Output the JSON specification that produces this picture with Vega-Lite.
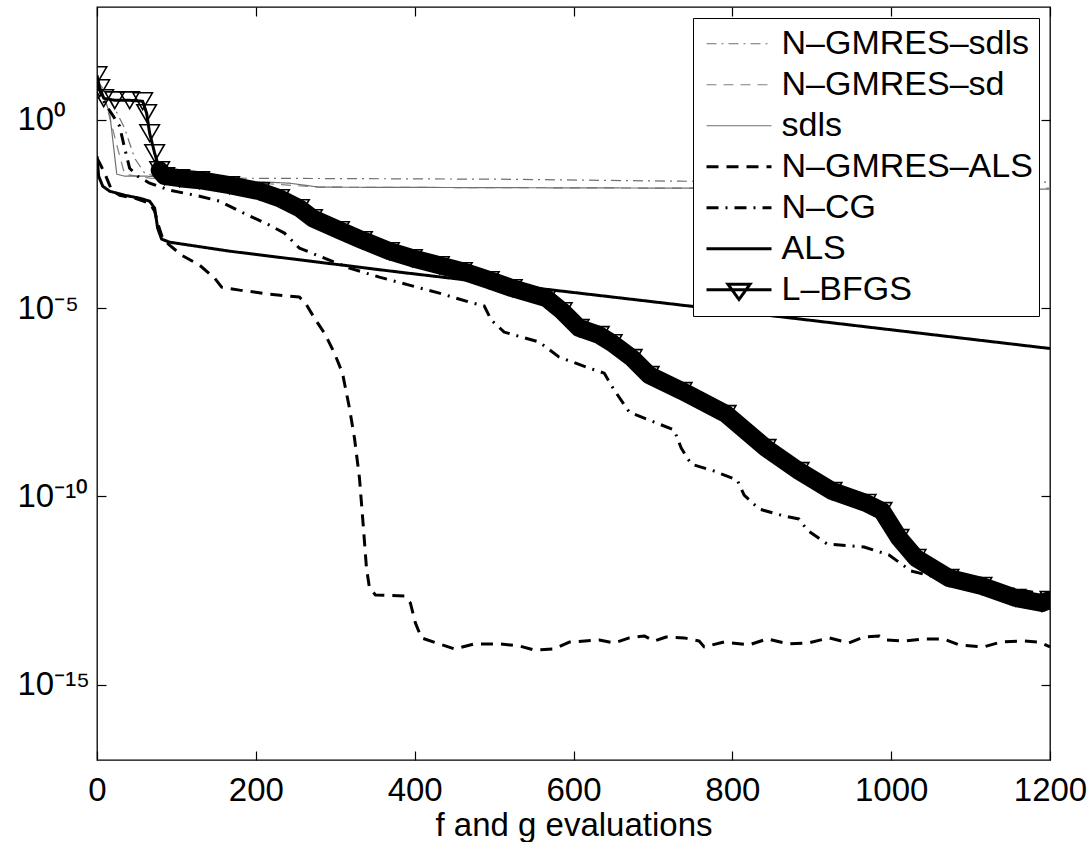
{
  "$schema": "https://vega.github.io/schema/vega-lite/v6.json",
  "width": 953,
  "height": 753,
  "autosize": {"type": "none"},
  "padding": {"left": 97, "top": 7, "right": 41, "bottom": 82},
  "background": "white",
  "config": {"view": {"stroke": "black", "strokeWidth": 1.3}, "font": "Liberation Sans"},
  "resolve": {"axis": {"x": "independent", "y": "independent"}},
  "data": {"values": [
    {"method":"N–GMRES–sdls","x":0,"y":11.3},{"method":"N–GMRES–sdls","x":16.0,"y":3.77},{"method":"N–GMRES–sdls","x":34.8,"y":0.603},{"method":"N–GMRES–sdls","x":47.4,"y":0.0964},{"method":"N–GMRES–sdls","x":60.0,"y":0.0385},{"method":"N–GMRES–sdls","x":78.9,"y":0.0301},{"method":"N–GMRES–sdls","x":166.9,"y":0.0284},{"method":"N–GMRES–sdls","x":506.6,"y":0.0267},{"method":"N–GMRES–sdls","x":733.0,"y":0.0236},{"method":"N–GMRES–sdls","x":1200,"y":0.0222},
    {"method":"N–GMRES–sd","x":0,"y":11.3},{"method":"N–GMRES–sd","x":9.7,"y":3.77},{"method":"N–GMRES–sd","x":26.0,"y":0.177},{"method":"N–GMRES–sd","x":34.8,"y":0.0362},{"method":"N–GMRES–sd","x":66.3,"y":0.0284},{"method":"N–GMRES–sd","x":166.9,"y":0.0236},{"method":"N–GMRES–sd","x":280.1,"y":0.0164},{"method":"N–GMRES–sd","x":758.2,"y":0.0154},{"method":"N–GMRES–sd","x":1200,"y":0.0154},
    {"method":"sdls","x":0,"y":11.3},{"method":"sdls","x":7.2,"y":5.12},{"method":"sdls","x":16.0,"y":1.51},{"method":"sdls","x":21.1,"y":0.177},{"method":"sdls","x":24.9,"y":0.0362},{"method":"sdls","x":34.8,"y":0.0321},{"method":"sdls","x":62.5,"y":0.0321},{"method":"sdls","x":166.9,"y":0.0251},{"method":"sdls","x":242.4,"y":0.0209},{"method":"sdls","x":280.1,"y":0.0164},{"method":"sdls","x":758.2,"y":0.0154},{"method":"sdls","x":1200,"y":0.0145},
    {"method":"N–GMRES–ALS","x":0,"y":0.0964},{"method":"N–GMRES–ALS","x":3.4,"y":0.0710},{"method":"N–GMRES–ALS","x":9.7,"y":0.0385},{"method":"N–GMRES–ALS","x":18.5,"y":0.0136},{"method":"N–GMRES–ALS","x":28.5,"y":0.0100},{"method":"N–GMRES–ALS","x":47.4,"y":0.00836},{"method":"N–GMRES–ALS","x":66.3,"y":0.00615},{"method":"N–GMRES–ALS","x":72.6,"y":0.00378},{"method":"N–GMRES–ALS","x":76.4,"y":0.00181},{"method":"N–GMRES–ALS","x":82.6,"y":0.000724},{"method":"N–GMRES–ALS","x":91.4,"y":0.000472},{"method":"N–GMRES–ALS","x":106.5,"y":0.000256},{"method":"N–GMRES–ALS","x":129.2,"y":0.000139},{"method":"N–GMRES–ALS","x":148.1,"y":6.28e-5},{"method":"N–GMRES–ALS","x":156.9,"y":3.62e-5},{"method":"N–GMRES–ALS","x":179.5,"y":3.02e-5},{"method":"N–GMRES–ALS","x":217.2,"y":2.36e-5},{"method":"N–GMRES–ALS","x":254.9,"y":1.97e-5},{"method":"N–GMRES–ALS","x":262.5,"y":1.36e-5},{"method":"N–GMRES–ALS","x":273.8,"y":5.45e-6},{"method":"N–GMRES–ALS","x":286.4,"y":2.18e-6},{"method":"N–GMRES–ALS","x":299.0,"y":6.41e-7},{"method":"N–GMRES–ALS","x":309.1,"y":1.89e-7},{"method":"N–GMRES–ALS","x":317.9,"y":2.22e-8},{"method":"N–GMRES–ALS","x":324.2,"y":3.56e-9},{"method":"N–GMRES–ALS","x":330.5,"y":3.08e-10},{"method":"N–GMRES–ALS","x":335.5,"y":1.45e-11},{"method":"N–GMRES–ALS","x":339.3,"y":1.26e-12},{"method":"N–GMRES–ALS","x":343.1,"y":3.71e-13},{"method":"N–GMRES–ALS","x":350.6,"y":2.42e-13},{"method":"N–GMRES–ALS","x":387.1,"y":2.28e-13},{"method":"N–GMRES–ALS","x":394.6,"y":1.48e-13},{"method":"N–GMRES–ALS","x":400.9,"y":4.37e-14},{"method":"N–GMRES–ALS","x":408.5,"y":1.75e-14},{"method":"N–GMRES–ALS","x":431.1,"y":1.21e-14},{"method":"N–GMRES–ALS","x":450.0,"y":8.91e-15},{"method":"N–GMRES–ALS","x":475.2,"y":1.21e-14},{"method":"N–GMRES–ALS","x":506.6,"y":1.21e-14},{"method":"N–GMRES–ALS","x":531.8,"y":1.07e-14},{"method":"N–GMRES–ALS","x":550.7,"y":8.37e-15},{"method":"N–GMRES–ALS","x":575.8,"y":8.91e-15},{"method":"N–GMRES–ALS","x":594.7,"y":1.36e-14},{"method":"N–GMRES–ALS","x":632.4,"y":1.54e-14},{"method":"N–GMRES–ALS","x":651.3,"y":1.29e-14},{"method":"N–GMRES–ALS","x":670.2,"y":1.75e-14},{"method":"N–GMRES–ALS","x":689.1,"y":1.97e-14},{"method":"N–GMRES–ALS","x":701.6,"y":1.45e-14},{"method":"N–GMRES–ALS","x":716.7,"y":1.85e-14},{"method":"N–GMRES–ALS","x":739.4,"y":1.75e-14},{"method":"N–GMRES–ALS","x":758.2,"y":1.45e-14},{"method":"N–GMRES–ALS","x":764.5,"y":1.01e-14},{"method":"N–GMRES–ALS","x":789.7,"y":1.36e-14},{"method":"N–GMRES–ALS","x":821.1,"y":1.14e-14},{"method":"N–GMRES–ALS","x":843.8,"y":1.64e-14},{"method":"N–GMRES–ALS","x":871.4,"y":1.21e-14},{"method":"N–GMRES–ALS","x":896.6,"y":1.29e-14},{"method":"N–GMRES–ALS","x":921.7,"y":1.75e-14},{"method":"N–GMRES–ALS","x":946.9,"y":1.29e-14},{"method":"N–GMRES–ALS","x":965.8,"y":1.85e-14},{"method":"N–GMRES–ALS","x":984.6,"y":1.97e-14},{"method":"N–GMRES–ALS","x":994.7,"y":1.54e-14},{"method":"N–GMRES–ALS","x":1016.1,"y":1.45e-14},{"method":"N–GMRES–ALS","x":1041.2,"y":1.64e-14},{"method":"N–GMRES–ALS","x":1066.4,"y":1.64e-14},{"method":"N–GMRES–ALS","x":1085.3,"y":1.14e-14},{"method":"N–GMRES–ALS","x":1116.7,"y":1.01e-14},{"method":"N–GMRES–ALS","x":1138.1,"y":1.36e-14},{"method":"N–GMRES–ALS","x":1167.0,"y":1.45e-14},{"method":"N–GMRES–ALS","x":1185.9,"y":1.36e-14},{"method":"N–GMRES–ALS","x":1200,"y":1.01e-14},
    {"method":"N–CG","x":0,"y":9.44},{"method":"N–CG","x":9.7,"y":2.78},{"method":"N–CG","x":19.8,"y":1.33},{"method":"N–CG","x":28.5,"y":0.681},{"method":"N–CG","x":34.8,"y":0.177},{"method":"N–CG","x":41.1,"y":0.0522},{"method":"N–CG","x":51.2,"y":0.0321},{"method":"N–CG","x":66.3,"y":0.0209},{"method":"N–CG","x":91.4,"y":0.0136},{"method":"N–CG","x":129.2,"y":0.00944},{"method":"N–CG","x":154.4,"y":0.00695},{"method":"N–CG","x":179.5,"y":0.00378},{"method":"N–CG","x":217.2,"y":0.0016},{"method":"N–CG","x":236.1,"y":0.000984},{"method":"N–CG","x":254.9,"y":0.000393},{"method":"N–CG","x":280.1,"y":0.000241},{"method":"N–CG","x":317.9,"y":0.000116},{"method":"N–CG","x":355.6,"y":6.68e-5},{"method":"N–CG","x":393.3,"y":4.09e-5},{"method":"N–CG","x":431.1,"y":2.51e-5},{"method":"N–CG","x":468.8,"y":1.45e-5},{"method":"N–CG","x":487.7,"y":1.14e-5},{"method":"N–CG","x":496.5,"y":4.82e-6},{"method":"N–CG","x":512.8,"y":2.32e-6},{"method":"N–CG","x":556.9,"y":1.26e-6},{"method":"N–CG","x":582.0,"y":5.02e-7},{"method":"N–CG","x":619.8,"y":2.56e-7},{"method":"N–CG","x":638.6,"y":1.89e-7},{"method":"N–CG","x":651.3,"y":6.68e-8},{"method":"N–CG","x":670.2,"y":1.74e-8},{"method":"N–CG","x":701.6,"y":9.46e-9},{"method":"N–CG","x":726.8,"y":5.80e-9},{"method":"N–CG","x":735.6,"y":1.93e-9},{"method":"N–CG","x":748.2,"y":7.25e-10},{"method":"N–CG","x":777.1,"y":4.73e-10},{"method":"N–CG","x":806.1,"y":2.73e-10},{"method":"N–CG","x":814.9,"y":1.09e-10},{"method":"N–CG","x":833.8,"y":4.63e-11},{"method":"N–CG","x":865.2,"y":3.02e-11},{"method":"N–CG","x":884.1,"y":2.51e-11},{"method":"N–CG","x":894.2,"y":1.28e-11},{"method":"N–CG","x":919.3,"y":5.46e-12},{"method":"N–CG","x":965.8,"y":4.54e-12},{"method":"N–CG","x":997.3,"y":2.79e-12},{"method":"N–CG","x":1025.0,"y":1.05e-12},{"method":"N–CG","x":1060.2,"y":6.82e-13},{"method":"N–CG","x":1097.9,"y":5.03e-13},{"method":"N–CG","x":1135.7,"y":4.19e-13},{"method":"N–CG","x":1160.8,"y":3.28e-13},{"method":"N–CG","x":1200,"y":2.42e-13},
    {"method":"ALS","x":0,"y":0.109},{"method":"ALS","x":2.1,"y":0.0321},{"method":"ALS","x":7.2,"y":0.0174},{"method":"ALS","x":16.0,"y":0.0128},{"method":"ALS","x":34.8,"y":0.0100},{"method":"ALS","x":53.7,"y":0.00836},{"method":"ALS","x":66.3,"y":0.00695},{"method":"ALS","x":72.6,"y":0.00453},{"method":"ALS","x":76.4,"y":0.00133},{"method":"ALS","x":81.4,"y":0.000681},{"method":"ALS","x":91.4,"y":0.000567},{"method":"ALS","x":166.9,"y":0.000327},{"method":"ALS","x":380.9,"y":9.06e-5},{"method":"ALS","x":733.0,"y":1.23e-5},{"method":"ALS","x":1200,"y":8.5e-7},
    {"method":"L–BFGS","x":0,"y":15.4},{"method":"L–BFGS","x":3.4,"y":6.95},{"method":"L–BFGS","x":8.4,"y":3.77},{"method":"L–BFGS","x":22.3,"y":3.33},{"method":"L–BFGS","x":41.1,"y":3.33},{"method":"L–BFGS","x":57.5,"y":3.14},{"method":"L–BFGS","x":62.5,"y":1.51},{"method":"L–BFGS","x":66.3,"y":0.444},{"method":"L–BFGS","x":72.6,"y":0.131},{"method":"L–BFGS","x":78.9,"y":0.0462},{"method":"L–BFGS","x":85.2,"y":0.0321},{"method":"L–BFGS","x":104.0,"y":0.0284},{"method":"L–BFGS","x":129.2,"y":0.0251},{"method":"L–BFGS","x":166.9,"y":0.0185},{"method":"L–BFGS","x":204.7,"y":0.0128},{"method":"L–BFGS","x":229.8,"y":0.00836},{"method":"L–BFGS","x":254.9,"y":0.00453},{"method":"L–BFGS","x":271.3,"y":0.00246},{"method":"L–BFGS","x":305.3,"y":0.00118},{"method":"L–BFGS","x":334.2,"y":0.000641},{"method":"L–BFGS","x":368.2,"y":0.000327},{"method":"L–BFGS","x":397.1,"y":0.000213},{"method":"L–BFGS","x":431.1,"y":0.000139},{"method":"L–BFGS","x":460.0,"y":9.64e-5},{"method":"L–BFGS","x":494.0,"y":5.56e-5},{"method":"L–BFGS","x":522.9,"y":3.41e-5},{"method":"L–BFGS","x":565.7,"y":1.85e-5},{"method":"L–BFGS","x":585.8,"y":8.36e-6},{"method":"L–BFGS","x":607.2,"y":2.96e-6},{"method":"L–BFGS","x":632.4,"y":1.93e-6},{"method":"L–BFGS","x":648.7,"y":1.18e-6},{"method":"L–BFGS","x":673.9,"y":4.73e-7},{"method":"L–BFGS","x":695.3,"y":1.67e-7},{"method":"L–BFGS","x":736.8,"y":6.29e-8},{"method":"L–BFGS","x":792.2,"y":1.54e-8},{"method":"L–BFGS","x":842.5,"y":1.93e-9},{"method":"L–BFGS","x":884.1,"y":4.73e-10},{"method":"L–BFGS","x":925.6,"y":1.39e-10},{"method":"L–BFGS","x":968.4,"y":6.70e-11},{"method":"L–BFGS","x":988.5,"y":4.10e-11},{"method":"L–BFGS","x":1009.9,"y":7.87e-12},{"method":"L–BFGS","x":1031.3,"y":2.32e-12},{"method":"L–BFGS","x":1072.8,"y":6.82e-13},{"method":"L–BFGS","x":1114.3,"y":4.19e-13},{"method":"L–BFGS","x":1157.1,"y":2.01e-13},{"method":"L–BFGS","x":1189.8,"y":1.48e-13},{"method":"L–BFGS","x":1200,"y":1.78e-13}
  ]},
  "layer": [
    {
      "mark": {"type": "line", "clip": true, "strokeCap": "butt", "strokeJoin": "round"},
      "encoding": {
        "x": {"field": "x", "type": "quantitative", "scale": {"domain": [0, 1200], "nice": false},
          "axis": {"values": [0, 200, 400, 600, 800, 1000, 1200], "format": "d", "grid": false, "domain": false, "tickSize": -9, "tickColor": "black", "tickWidth": 1.2,
            "labelFont": "Liberation Sans", "labelFontSize": 33, "labelColor": "black", "labelPadding": 23, "labelFlush": false, "labelOverlap": false, "labelBound": false,
            "title": "f and g evaluations", "titleFont": "Liberation Sans", "titleFontSize": 33, "titleFontWeight": "normal", "titleColor": "black", "titlePadding": 2}},
        "y": {"field": "y", "type": "quantitative", "scale": {"type": "log", "domain": [1e-17, 1000], "nice": false},
          "axis": {"values": [1, 1e-5, 1e-10, 1e-15], "grid": false, "domain": false, "tickSize": -9, "tickColor": "black", "tickWidth": 1.2,
            "labelFont": "Liberation Sans", "labelFontSize": 33, "labelColor": "black", "labelAlign": "left", "labelBaseline": "middle", "labelPadding": 89, "labelOverlap": false, "labelBound": false,
            "labelExpr": "datum.value >= 0.5 ? '10⁰' : datum.value >= 5e-6 ? '10⁻⁵' : datum.value >= 5e-11 ? '10⁻¹⁰' : '10⁻¹⁵'",
            "title": null}},
        "color": {"field": "method", "type": "nominal",
          "scale": {"domain": ["N–GMRES–sdls", "N–GMRES–sd", "sdls", "N–GMRES–ALS", "N–CG", "ALS", "L–BFGS"], "range": ["#707070", "#808080", "#707070", "black", "black", "black", "black"]},
          "legend": {"title": null, "orient": "top-right", "offset": 11, "symbolType": "stroke", "symbolSize": 4225, "clipHeight": 40.5, "rowPadding": 0,
            "padding": 5.5, "labelOffset": 10, "labelFont": "Liberation Sans", "labelFontSize": 34, "labelColor": "black", "labelLimit": 400,
            "strokeColor": "black", "fillColor": "white",
            "encode": {
              "symbols": {"update": {
                "x": {"value": 40.5},
                "shape": {"signal": "datum.value === 'L–BFGS' ? 'M-1,0L1,0M-0.34,-0.17L0.34,-0.17L0,0.3Z' : 'stroke'"},
                "strokeWidth": {"signal": "indexof(['N–GMRES–sdls','N–GMRES–sd','sdls'], datum.value) >= 0 ? 1.2 : 3"},
                "fill": {"value": "transparent"}}},
              "labels": {"update": {"x": {"value": 83}}}}}},
        "strokeDash": {"field": "method", "type": "nominal",
          "scale": {"domain": ["N–GMRES–sdls", "N–GMRES–sd", "sdls", "N–GMRES–ALS", "N–CG", "ALS", "L–BFGS"], "range": [[10, 5, 2, 5], [10, 7], [1, 0], [12, 8], [12, 7, 2, 7], [1, 0], [1, 0]]},
          "legend": {"title": null, "orient": "top-right", "offset": 11, "symbolType": "stroke", "symbolSize": 4225, "clipHeight": 40.5, "rowPadding": 0,
            "padding": 5.5, "labelOffset": 10, "labelFont": "Liberation Sans", "labelFontSize": 34, "labelColor": "black", "labelLimit": 400,
            "strokeColor": "black", "fillColor": "white"}},
        "strokeWidth": {"condition": {"test": "indexof(['N–GMRES–sdls','N–GMRES–sd','sdls'], datum.method) >= 0", "value": 1.2}, "value": 3},
        "order": {"field": "x", "type": "quantitative"}
      }
    },
    {
      "transform": [{"filter": "datum.method === 'L–BFGS' && datum.x >= 78"}],
      "mark": {"type": "line", "clip": true, "color": "black", "strokeWidth": 18, "strokeJoin": "round", "strokeCap": "round"},
      "encoding": {
        "x": {"field": "x", "type": "quantitative", "axis": {"orient": "top", "values": [0, 200, 400, 600, 800, 1000, 1200], "labels": false, "grid": false, "domain": false, "tickSize": -9, "tickColor": "black", "tickWidth": 1.2, "title": null}},
        "y": {"field": "y", "type": "quantitative", "axis": {"orient": "right", "values": [1, 1e-5, 1e-10, 1e-15], "labels": false, "grid": false, "domain": false, "tickSize": -9, "tickColor": "black", "tickWidth": 1.2, "title": null}},
        "order": {"field": "x", "type": "quantitative"}
      }
    },
    {
      "transform": [{"filter": "datum.method === 'L–BFGS'"}],
      "mark": {"type": "point", "clip": true, "shape": "triangle-down", "size": 380, "filled": false, "stroke": "black", "strokeWidth": 1.6, "opacity": 1},
      "encoding": {
        "x": {"field": "x", "type": "quantitative", "axis": null},
        "y": {"field": "y", "type": "quantitative", "axis": null}
      }
    }
  ]
}
